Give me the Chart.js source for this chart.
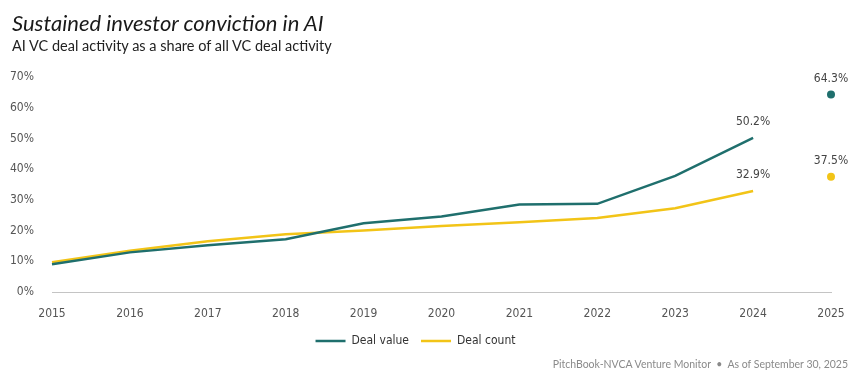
<!DOCTYPE html>
<html>
<head>
<meta charset="utf-8">
<script src="https://cdn.jsdelivr.net/npm/chart.js@4.4.1/dist/chart.umd.min.js"></script>
<style>
  html, body { margin: 0; padding: 0; background: #ffffff; }
  #wrap { position: relative; width: 867px; height: 378px; overflow: hidden; }
  #chart { position: absolute; left: 0; top: 0; }
  .title { position: absolute; left: 12px; top: 9px; font-family: Lato, "Open Sans", sans-serif; font-style: italic; font-size: 22px; color: #1a1a1a; white-space: nowrap; }
  .subtitle { position: absolute; left: 12px; top: 37px; font-family: Lato, "Open Sans", sans-serif; font-size: 14.5px; color: #222; white-space: nowrap; }
  .footer { position: absolute; right: 19px; top: 358px; font-family: Lato, "Open Sans", sans-serif; font-size: 10.5px; color: #8a8a8a; white-space: nowrap; }
</style>
</head>
<body>
<div id="wrap">
  <canvas id="chart" width="867" height="378"></canvas>
  <div class="title">Sustained investor conviction in AI</div>
  <div class="subtitle">AI VC deal activity as a share of all VC deal activity</div>
  <div class="footer">PitchBook-NVCA Venture Monitor &nbsp;•&nbsp; As of September 30, 2025</div>
</div>
<script>
const years = ["2015","2016","2017","2018","2019","2020","2021","2022","2023","2024","2025"];
const dealValue = [9.0, 12.9, 15.2, 17.2, 22.4, 24.6, 28.5, 28.7, 37.8, 50.2, 64.3];
const dealCount = [9.7, 13.4, 16.5, 18.8, 20.0, 21.5, 22.7, 24.1, 27.3, 32.9, 37.5];
const yTicks = [0, 10, 20, 30, 40, 50, 60, 70];
const labeledIndices = [9, 10];

const TEAL = "#1f6f6d";
const GOLD = "#f2c417";
const NARROW = "'Liberation Sans Narrow', 'DejaVu Sans Condensed', 'Roboto', sans-serif";

const lastIdx = years.length - 1;

const valueLabels = {
  id: "valueLabels",
  afterDatasetsDraw(chart) {
    const ctx = chart.ctx;
    ctx.save();
    ctx.font = "12px " + NARROW;
    ctx.fillStyle = "#444444";
    ctx.textAlign = "center";
    ctx.textBaseline = "middle";
    chart.data.datasets.forEach((ds, di) => {
      const meta = chart.getDatasetMeta(di);
      labeledIndices.forEach(i => {
        const pt = meta.data[i];
        if (!pt) return;
        ctx.fillText(ds.data[i].toFixed(1) + "%", pt.x, pt.y - 16);
      });
    });
    ctx.restore();
  }
};

function makeDataset(label, data, color) {
  return {
    label: label,
    data: data,
    borderColor: color,
    backgroundColor: color,
    borderWidth: 2.5,
    tension: 0,
    pointRadius: c => (c.dataIndex === lastIdx ? 4 : 0),
    pointHoverRadius: c => (c.dataIndex === lastIdx ? 4 : 0),
    pointBackgroundColor: color,
    pointBorderWidth: 0,
    segment: {
      borderColor: c => (c.p1DataIndex === lastIdx ? "rgba(0,0,0,0)" : color)
    }
  };
}

new Chart(document.getElementById("chart"), {
  type: "line",
  data: {
    labels: years,
    datasets: [
      makeDataset("Deal value", dealValue, TEAL),
      makeDataset("Deal count", dealCount, GOLD)
    ]
  },
  options: {
    responsive: false,
    animation: false,
    events: [],
    layout: { padding: { top: 77, left: 0, right: 36, bottom: 21 } },
    plugins: {
      title: { display: false },
      tooltip: { enabled: false },
      legend: {
        display: true,
        position: "bottom",
        labels: {
          boxWidth: 30,
          boxHeight: 2.5,
          padding: 12,
          color: "#333333",
          font: { family: NARROW, size: 12 },
          generateLabels(chart) {
            return chart.data.datasets.map((ds, i) => ({
              text: ds.label,
              fillStyle: ds.borderColor,
              strokeStyle: ds.borderColor,
              lineWidth: 0,
              hidden: false,
              datasetIndex: i,
              fontColor: "#333333"
            }));
          }
        }
      }
    },
    scales: {
      x: {
        type: "category",
        offset: false,
        grid: { display: false, drawTicks: false },
        border: { display: true, color: "#c4c4c4", width: 1 },
        ticks: {
          color: "#555555",
          font: { family: NARROW, size: 12 },
          padding: 15,
          maxRotation: 0,
          autoSkip: false
        },
        afterFit(scale) { scale.height = 31; }
      },
      y: {
        min: yTicks[0],
        max: yTicks[yTicks.length - 1],
        grid: { display: false, drawTicks: false },
        border: { display: false },
        afterBuildTicks(scale) { scale.ticks = yTicks.map(v => ({ value: v })); },
        ticks: {
          color: "#555555",
          font: { family: NARROW, size: 12 },
          padding: 18,
          callback: v => v + "%"
        },
        afterFit(scale) { scale.width = 52; }
      }
    }
  },
  plugins: [valueLabels]
});
</script>
</body>
</html>
